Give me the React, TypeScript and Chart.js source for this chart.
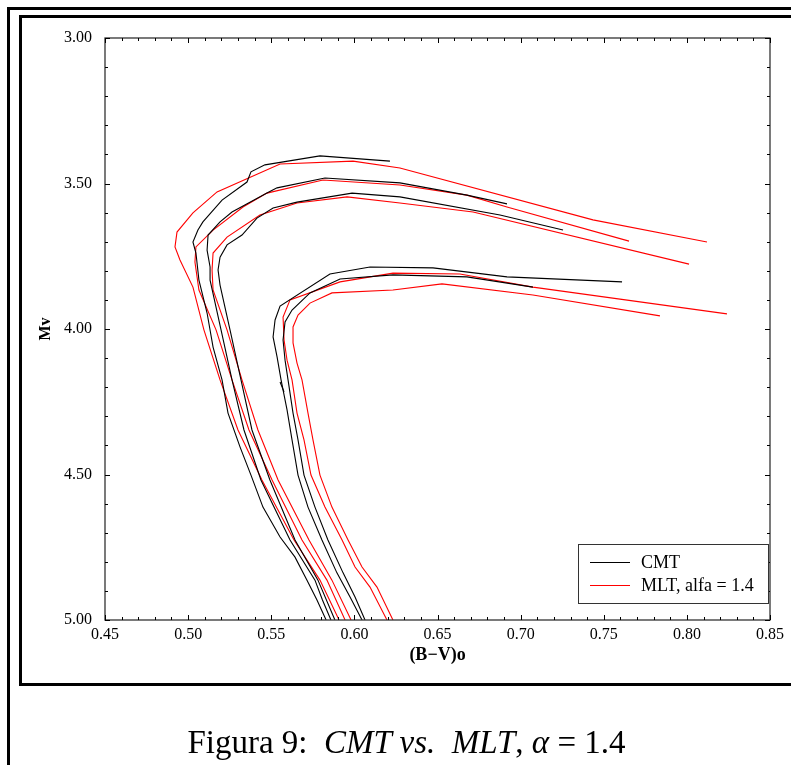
import React, { useEffect, useRef } from 'react';
import { Chart, registerables } from 'chart.js';

Chart.register(...registerables);

// Axis ticks
const X_TICKS = [0.45, 0.5, 0.55, 0.6, 0.65, 0.7, 0.75, 0.8, 0.85];
const Y_TICKS = [3.0, 3.5, 4.0, 4.5, 5.0];

// Legend
const LEGEND_LABELS = ['CMT', 'MLT, alfa = 1.4'];

// CMT isochrones (black) : [(B-V)o, Mv]
const CMT_A: [number, number][] = [
  [0.583, 5.0], [0.5775, 4.931], [0.5715, 4.863], [0.5643, 4.784], [0.5553, 4.715], [0.545, 4.612],
  [0.5378, 4.502], [0.5312, 4.405], [0.524, 4.289], [0.5204, 4.175], [0.515, 4.062], [0.5114, 3.945],
  [0.5065, 3.832], [0.5047, 3.739], [0.5029, 3.701], [0.5059, 3.66], [0.5089, 3.632], [0.5204, 3.557],
  [0.5354, 3.495], [0.5378, 3.46], [0.5462, 3.436], [0.5793, 3.405], [0.6214, 3.423],
];
const CMT_B: [number, number][] = [
  [0.5859, 5.0], [0.5808, 4.931], [0.5763, 4.863], [0.5613, 4.725], [0.5438, 4.519], [0.5336, 4.347],
  [0.5264, 4.175], [0.5198, 4.003], [0.5132, 3.832], [0.5132, 3.787], [0.5114, 3.729], [0.512, 3.677],
  [0.5192, 3.632], [0.5264, 3.598], [0.5474, 3.533], [0.5535, 3.515], [0.5823, 3.481], [0.6274, 3.498],
  [0.6677, 3.54], [0.6918, 3.57],
];
const CMT_C: [number, number][] = [
  [0.5883, 5.0], [0.5781, 4.863], [0.5643, 4.725], [0.5492, 4.519], [0.5384, 4.347], [0.5318, 4.175],
  [0.5252, 4.003], [0.5192, 3.849], [0.518, 3.797], [0.5192, 3.753], [0.5234, 3.711], [0.5324, 3.677],
  [0.5414, 3.619], [0.5511, 3.584], [0.5655, 3.564], [0.5986, 3.533], [0.6274, 3.546], [0.6876, 3.608],
  [0.7255, 3.66],
];
const CMT_D: [number, number][] = [
  [0.6046, 5.0], [0.5974, 4.921], [0.5895, 4.838], [0.5805, 4.725], [0.5721, 4.612], [0.5661, 4.502],
  [0.5625, 4.381], [0.5595, 4.278], [0.5559, 4.175], [0.5535, 4.096], [0.5511, 4.027], [0.5523, 3.969],
  [0.5553, 3.921], [0.5853, 3.811], [0.6094, 3.787], [0.6473, 3.79], [0.6918, 3.821], [0.761, 3.838],
];
const CMT_E: [number, number][] = [
  [0.6064, 5.0], [0.6004, 4.921], [0.5932, 4.838], [0.5841, 4.725], [0.5763, 4.612], [0.5697, 4.502],
  [0.5661, 4.381], [0.5631, 4.289], [0.5601, 4.175], [0.5583, 4.107], [0.5571, 4.038], [0.5583, 3.976],
  [0.5625, 3.935], [0.5733, 3.876], [0.5914, 3.828], [0.6232, 3.814], [0.6677, 3.821], [0.7074, 3.856],
];
const CMT_STUB: [number, number][] = [[0.5553, 4.182], [0.5577, 4.216]];

// MLT isochrones (red)
const MLT_A: [number, number][] = [
  [0.5908, 5.0], [0.5793, 4.863], [0.5637, 4.725], [0.5444, 4.519], [0.53, 4.347], [0.5192, 4.175],
  [0.5095, 4.003], [0.5029, 3.856], [0.4951, 3.763], [0.4921, 3.718], [0.4933, 3.667], [0.5029, 3.601],
  [0.5174, 3.529], [0.5553, 3.433], [0.5992, 3.423], [0.6274, 3.447], [0.7435, 3.625], [0.8121, 3.701],
];
const MLT_B: [number, number][] = [
  [0.5944, 5.0], [0.5835, 4.863], [0.5685, 4.725], [0.5505, 4.519], [0.5366, 4.347], [0.5264, 4.175],
  [0.5168, 4.003], [0.5065, 3.866], [0.5041, 3.77], [0.5047, 3.718], [0.515, 3.66], [0.533, 3.581],
  [0.5474, 3.533], [0.5811, 3.488], [0.6274, 3.505], [0.6677, 3.54], [0.6918, 3.581], [0.7652, 3.698],
];
const MLT_C: [number, number][] = [
  [0.598, 5.0], [0.5865, 4.863], [0.5727, 4.725], [0.5541, 4.519], [0.542, 4.347], [0.5324, 4.175],
  [0.5234, 4.003], [0.515, 3.866], [0.5144, 3.797], [0.515, 3.739], [0.5234, 3.684], [0.5432, 3.608],
  [0.5655, 3.567], [0.5956, 3.546], [0.6274, 3.567], [0.6714, 3.598], [0.8013, 3.777],
];
const MLT_D: [number, number][] = [
  [0.6196, 5.0], [0.6094, 4.887], [0.6004, 4.818], [0.5926, 4.725], [0.5823, 4.612], [0.5739, 4.502],
  [0.5697, 4.381], [0.5655, 4.289], [0.5625, 4.175], [0.5595, 4.107], [0.5577, 4.038], [0.5571, 3.959],
  [0.5613, 3.9], [0.5914, 3.838], [0.6232, 3.808], [0.6635, 3.811], [0.7074, 3.856], [0.8241, 3.948],
];
const MLT_E: [number, number][] = [
  [0.6232, 5.0], [0.6136, 4.887], [0.6046, 4.818], [0.5962, 4.725], [0.5865, 4.612], [0.5793, 4.502],
  [0.5751, 4.381], [0.5721, 4.289], [0.5685, 4.175], [0.5655, 4.117], [0.5631, 4.048], [0.5631, 3.993],
  [0.5661, 3.952], [0.5733, 3.911], [0.5865, 3.876], [0.6232, 3.866], [0.6527, 3.845], [0.7074, 3.883],
  [0.7838, 3.955],
];

const CMT_SERIES = [CMT_A, CMT_B, CMT_C, CMT_D, CMT_E, CMT_STUB];
const MLT_SERIES = [MLT_A, MLT_B, MLT_C, MLT_D, MLT_E];

const BLACK = '#000000';
const RED = '#ff0000';
const SERIF = '"Liberation Serif", "Times New Roman", serif';

export default function App() {
  const ref = useRef<HTMLCanvasElement>(null);

  useEffect(() => {
    const canvas = ref.current;
    if (!canvas) return;

    const mk = (label: string, pts: [number, number][], color: string, legendIndex: number) => ({
      label,
      data: pts.map(([x, y]) => ({ x, y })),
      borderColor: color,
      backgroundColor: color,
      borderWidth: 1.1,
      pointRadius: 0,
      pointHoverRadius: 0,
      showLine: true,
      fill: false,
      tension: 0,
      legendIndex,
    });

    const datasets: any[] = [];
    CMT_SERIES.forEach((s, i) => datasets.push(mk(LEGEND_LABELS[0], s, BLACK, i === 0 ? 0 : -1)));
    MLT_SERIES.forEach((s, i) => datasets.push(mk(LEGEND_LABELS[1], s, RED, i === 0 ? 1 : -1)));

    const framePlugin = {
      id: 'frameTicksLegend',
      afterDraw(chart: any) {
        const { ctx, chartArea } = chart;
        const { left, right, top, bottom } = chartArea;
        const xs = chart.scales.x;
        const ys = chart.scales.y;
        ctx.save();
        ctx.strokeStyle = '#333';
        ctx.lineWidth = 1.3;
        ctx.strokeRect(left, top, right - left, bottom - top);
        ctx.strokeStyle = '#000';
        ctx.lineWidth = 1;
        ctx.beginPath();
        for (let i = 45; i <= 85; i++) {
          const px = Math.round(xs.getPixelForValue(i / 100)) + 0.5;
          const len = i % 5 === 0 ? 5 : 3;
          ctx.moveTo(px, bottom);
          ctx.lineTo(px, bottom - len);
          ctx.moveTo(px, top);
          ctx.lineTo(px, top + len);
        }
        for (let i = 30; i <= 50; i++) {
          const py = Math.round(ys.getPixelForValue(i / 10)) + 0.5;
          const len = i % 5 === 0 ? 5 : 3;
          ctx.moveTo(left, py);
          ctx.lineTo(left + len, py);
          ctx.moveTo(right, py);
          ctx.lineTo(right - len, py);
        }
        ctx.stroke();

        // legend box
        const bw = 190;
        const bh = 59;
        const bx = Math.round(right - 192);
        const by = Math.round(bottom - 76);
        ctx.fillStyle = '#fff';
        ctx.fillRect(bx, by, bw, bh);
        ctx.strokeStyle = '#333';
        ctx.lineWidth = 1;
        ctx.strokeRect(bx + 0.5, by + 0.5, bw, bh);
        const items = chart.data.datasets.filter((d: any) => d.legendIndex >= 0);
        items.forEach((d: any) => {
          const ly = by + 18 + d.legendIndex * 23;
          ctx.strokeStyle = d.borderColor;
          ctx.lineWidth = 1;
          ctx.beginPath();
          ctx.moveTo(bx + 12, ly + 0.5);
          ctx.lineTo(bx + 52, ly + 0.5);
          ctx.stroke();
          ctx.fillStyle = '#000';
          ctx.font = `18px ${SERIF}`;
          ctx.textBaseline = 'middle';
          ctx.textAlign = 'left';
          ctx.fillText(d.label, bx + 63, ly + 1);
        });
        ctx.restore();
      },
    };

    const chart = new Chart(canvas, {
      type: 'scatter',
      data: { datasets },
      options: {
        responsive: false,
        animation: false,
        events: [],
        layout: { padding: { left: 0, right: 21, top: 38, bottom: 10 } },
        plugins: { legend: { display: false }, tooltip: { enabled: false } },
        scales: {
          x: {
            type: 'linear',
            min: 0.45,
            max: 0.85,
            grid: { display: false, drawTicks: false },
            border: { display: false },
            afterBuildTicks: (s: any) => {
              s.ticks = X_TICKS.map((v) => ({ value: v }));
            },
            afterFit: (s: any) => {
              s.height = 60;
            },
            ticks: {
              autoSkip: false,
              maxRotation: 0,
              padding: 5,
              color: '#000',
              font: { family: SERIF, size: 16 },
              callback: (v: any) => Number(v).toFixed(2),
            },
            title: {
              display: true,
              text: '(B−V)o',
              color: '#000',
              font: { family: SERIF, size: 18, weight: 'bold' },
              padding: { top: 0, bottom: 14 },
            },
          },
          y: {
            type: 'linear',
            reverse: true,
            min: 3,
            max: 5,
            grid: { display: false, drawTicks: false },
            border: { display: false },
            afterBuildTicks: (s: any) => {
              s.ticks = Y_TICKS.map((v) => ({ value: v }));
            },
            afterFit: (s: any) => {
              s.width = 105;
            },
            ticks: {
              autoSkip: false,
              padding: 13,
              color: '#000',
              font: { family: SERIF, size: 16 },
              callback: (v: any) => Number(v).toFixed(2),
            },
            title: {
              display: true,
              text: 'Mv',
              color: '#000',
              font: { family: SERIF, size: 16, weight: 'bold' },
              padding: { top: 36, bottom: 0 },
            },
          },
        },
      } as any,
      plugins: [framePlugin],
    });

    return () => chart.destroy();
  }, []);

  return (
    <div
      style={{
        position: 'absolute',
        left: 0,
        top: 0,
        width: 791,
        height: 765,
        overflow: 'hidden',
        background: '#fff',
      }}
    >
      <canvas
        ref={ref}
        width={791}
        height={690}
        style={{ position: 'absolute', left: 0, top: 0, width: 791, height: 690 }}
      />
      <div
        style={{
          position: 'absolute',
          left: 7,
          top: 7,
          width: 900,
          height: 900,
          borderTop: '3px solid #000',
          borderLeft: '3px solid #000',
        }}
      />
      <div
        style={{
          position: 'absolute',
          left: 19,
          top: 15,
          width: 900,
          height: 665,
          border: '3px solid #000',
        }}
      />
      <div
        style={{
          position: 'absolute',
          left: 11,
          top: 726,
          width: 791,
          textAlign: 'center',
          fontFamily: SERIF,
          fontSize: 33,
          lineHeight: '33px',
          color: '#000',
          whiteSpace: 'nowrap',
        }}
      >
        Figura 9:&nbsp; <i>CMT vs.</i>&nbsp; <i>MLT</i>, <i>α</i> = 1.4
      </div>
    </div>
  );
}
